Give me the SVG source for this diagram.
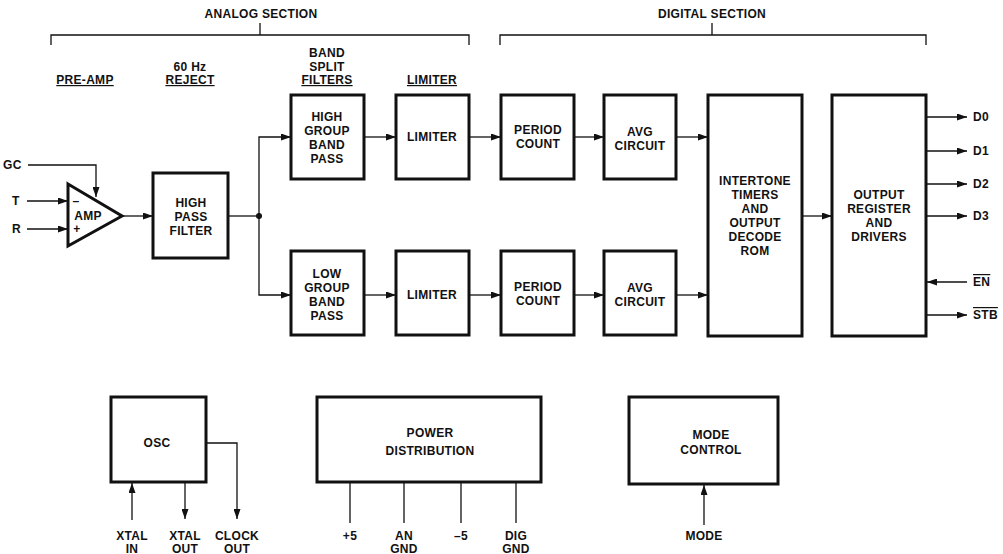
<svg xmlns="http://www.w3.org/2000/svg" width="1003" height="554" viewBox="0 0 1003 554">
<defs>
<marker id="ah" markerUnits="userSpaceOnUse" markerWidth="10" markerHeight="7" refX="10" refY="3.5" orient="auto">
<path d="M0,0 L10,3.5 L0,7 z" fill="#111"/>
</marker>
<style>
text{font-family:"Liberation Sans",Arial,sans-serif;font-size:12px;letter-spacing:0.3px;font-weight:bold;fill:#111;text-anchor:middle}
.box{fill:#fff;stroke:#111;stroke-width:3}
.ln{fill:none;stroke:#111;stroke-width:1.3}
.ar{fill:none;stroke:#111;stroke-width:1.3;marker-end:url(#ah)}
.u{text-decoration:underline}
.st{text-anchor:start}
</style>
</defs>
<rect width="1003" height="554" fill="#fff"/>
<g id="sections">
<text x="261" y="18">ANALOG SECTION</text>
<path class="ln" d="M51,45 V35 H469 V45 M260,35 V23"/>
<text x="712" y="18">DIGITAL SECTION</text>
<path class="ln" d="M500,45 V35 H926 V45 M712,35 V23"/>
<text class="u" x="85" y="84">PRE-AMP</text>
<text x="190" y="71">60 Hz</text>
<text class="u" x="190" y="84">REJECT</text>
<text x="327" y="57">BAND</text>
<text x="327" y="71">SPLIT</text>
<text class="u" x="327" y="84">FILTERS</text>
<text class="u" x="432" y="84">LIMITER</text>
</g>
<g id="connectors">
<path class="ar" d="M28,165 H96 V197"/>
<path class="ar" d="M27,201 H68"/>
<path class="ar" d="M27,229 H68"/>
<path class="ar" d="M122,216 H153"/>
<path class="ln" d="M228,216 H259"/>
<path class="ar" d="M259,216 V137 H291"/>
<path class="ar" d="M259,216 V295 H291"/>
<circle cx="259" cy="216" r="3" fill="#111"/>
<path class="ar" d="M364,137 H396"/>
<path class="ar" d="M469,137 H501"/>
<path class="ar" d="M574,137 H604"/>
<path class="ar" d="M676,137 H708"/>
<path class="ar" d="M364,295 H396"/>
<path class="ar" d="M469,295 H501"/>
<path class="ar" d="M574,295 H604"/>
<path class="ar" d="M676,295 H708"/>
<path class="ar" d="M802,216 H832"/>
<path class="ar" d="M926,117 H967"/>
<path class="ar" d="M926,151 H967"/>
<path class="ar" d="M926,184 H967"/>
<path class="ar" d="M926,216 H967"/>
<path class="ar" d="M967,282 H927"/>
<path class="ar" d="M926,315 H967"/>
<path class="ar" d="M132,520 V483"/>
<path class="ar" d="M185,482 V519"/>
<path class="ar" d="M206,443 H237 V519"/>
<path class="ln" d="M350,482 V523 M404,482 V523 M461,482 V523 M516,482 V523"/>
<path class="ar" d="M704,525 V485"/>
</g>
<g id="io-labels">
<text class="st" x="3" y="169">GC</text>
<text class="st" x="12" y="205">T</text>
<text class="st" x="12" y="233">R</text>
<text class="st" x="973" y="121">D0</text>
<text class="st" x="973" y="155">D1</text>
<text class="st" x="973" y="188">D2</text>
<text class="st" x="973" y="220">D3</text>
<text class="st" x="973" y="286" style="text-decoration:overline">EN</text>
<text class="st" x="973" y="319" style="text-decoration:overline">STB</text>
<text x="132" y="540">XTAL</text><text x="132" y="553">IN</text>
<text x="185" y="540">XTAL</text><text x="185" y="553">OUT</text>
<text x="237" y="540">CLOCK</text><text x="237" y="553">OUT</text>
<text x="350" y="540">+5</text>
<text x="404" y="540">AN</text><text x="404" y="553">GND</text>
<text x="461" y="540">–5</text>
<text x="516" y="540">DIG</text><text x="516" y="553">GND</text>
<text x="704" y="540">MODE</text>
</g>
<g id="amp">
<path d="M68,184 L122,216 L68,246 Z" fill="#fff" stroke="#111" stroke-width="3" stroke-linejoin="miter"/>
<text x="76" y="205">–</text>
<text x="77" y="233">+</text>
<text x="88" y="220">AMP</text>
</g>
<g id="hpf">
<rect class="box" x="153" y="173" width="75" height="85"/>
<text x="191" y="207">HIGH</text><text x="191" y="221">PASS</text><text x="191" y="235">FILTER</text>
</g>
<g id="hgbp">
<rect class="box" x="291" y="95" width="73" height="84"/>
<text x="327" y="121">HIGH</text><text x="327" y="135">GROUP</text><text x="327" y="149">BAND</text><text x="327" y="163">PASS</text>
</g>
<g id="lim1">
<rect class="box" x="396" y="95" width="73" height="84"/>
<text x="432" y="141">LIMITER</text>
</g>
<g id="pc1">
<rect class="box" x="501" y="95" width="73" height="84"/>
<text x="538" y="134">PERIOD</text><text x="538" y="148">COUNT</text>
</g>
<g id="avg1">
<rect class="box" x="604" y="95" width="72" height="84"/>
<text x="640" y="136">AVG</text><text x="640" y="150">CIRCUIT</text>
</g>
<g id="lgbp">
<rect class="box" x="291" y="251" width="73" height="84"/>
<text x="327" y="278">LOW</text><text x="327" y="292">GROUP</text><text x="327" y="306">BAND</text><text x="327" y="320">PASS</text>
</g>
<g id="lim2">
<rect class="box" x="396" y="251" width="73" height="84"/>
<text x="432" y="299">LIMITER</text>
</g>
<g id="pc2">
<rect class="box" x="501" y="251" width="73" height="84"/>
<text x="538" y="291">PERIOD</text><text x="538" y="305">COUNT</text>
</g>
<g id="avg2">
<rect class="box" x="604" y="251" width="72" height="84"/>
<text x="640" y="292">AVG</text><text x="640" y="306">CIRCUIT</text>
</g>
<g id="intertone">
<rect class="box" x="708" y="95" width="94" height="241"/>
<text x="755" y="185">INTERTONE</text><text x="755" y="199">TIMERS</text><text x="755" y="213">AND</text><text x="755" y="227">OUTPUT</text><text x="755" y="241">DECODE</text><text x="755" y="255">ROM</text>
</g>
<g id="outreg">
<rect class="box" x="832" y="95" width="94" height="241"/>
<text x="879" y="199">OUTPUT</text><text x="879" y="213">REGISTER</text><text x="879" y="227">AND</text><text x="879" y="241">DRIVERS</text>
</g>
<g id="osc">
<rect class="box" x="111" y="397" width="95" height="85"/>
<text x="157" y="447">OSC</text>
</g>
<g id="power">
<rect class="box" x="317" y="397" width="224" height="85"/>
<text x="430" y="437">POWER</text><text x="430" y="455">DISTRIBUTION</text>
</g>
<g id="mode">
<rect class="box" x="629" y="397" width="149" height="87"/>
<text x="711" y="439">MODE</text><text x="711" y="454">CONTROL</text>
</g>
</svg>
